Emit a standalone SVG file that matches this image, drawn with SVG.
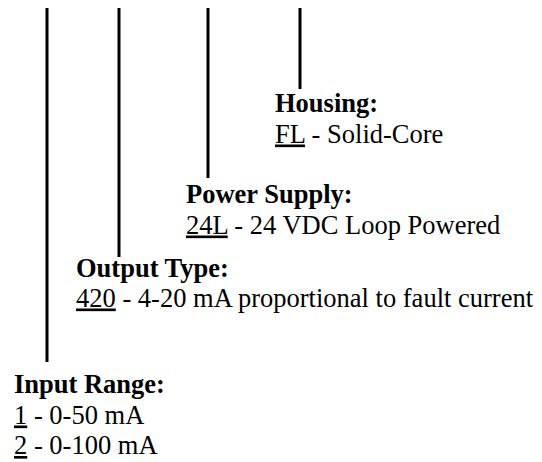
<svg xmlns="http://www.w3.org/2000/svg" width="542" height="462" viewBox="0 0 542 462">
<style>
text{font-family:"Liberation Serif","Times New Roman",serif;font-size:26.5px;fill:#000}
.h{font-weight:bold}
.u{text-decoration:underline}
.c{stroke:#000;stroke-width:3;fill:none}
</style>
<rect width="542" height="462" fill="#fff"/>
<g id="connectors">
<line class="c" x1="47" y1="8" x2="47" y2="362"/>
<line class="c" x1="119" y1="8" x2="119" y2="257"/>
<line class="c" x1="208" y1="8" x2="208" y2="178"/>
<line class="c" x1="300" y1="8" x2="300" y2="89"/>
</g>
<g id="housing">
<text class="h" x="275" y="112">Housing:</text>
<text x="275" y="142.5"><tspan class="u">FL</tspan> - Solid-Core</text>
</g>
<g id="power-supply">
<text class="h" x="186" y="203">Power Supply:</text>
<text x="186" y="233.5"><tspan class="u">24L</tspan> - 24 VDC Loop Powered</text>
</g>
<g id="output-type">
<text class="h" x="76" y="276.5">Output Type:</text>
<text x="76" y="306.5"><tspan class="u">420</tspan> - 4-20 mA proportional to fault current</text>
</g>
<g id="input-range">
<text class="h" x="14" y="393">Input Range:</text>
<text x="14" y="423.5"><tspan class="u">1</tspan> - 0-50 mA</text>
<text x="14" y="454"><tspan class="u">2</tspan> - 0-100 mA</text>
</g>
</svg>
